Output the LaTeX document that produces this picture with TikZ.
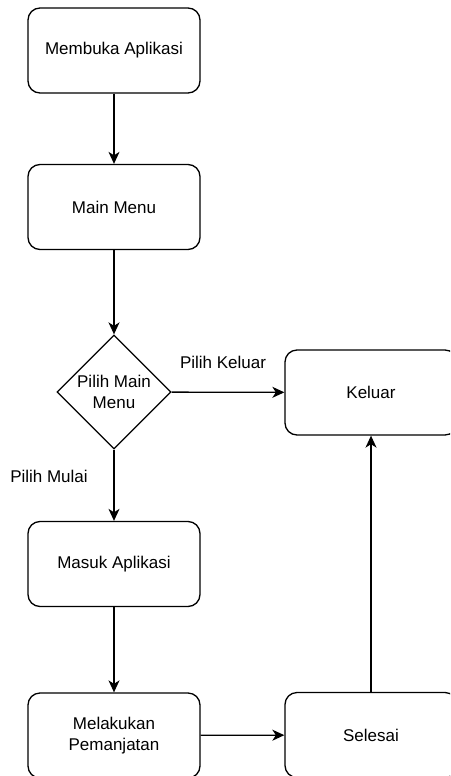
\documentclass[tikz,border=0pt]{standalone}
\usepackage{fontspec}
\setmainfont{Liberation Sans}
\usetikzlibrary{shapes.geometric,arrows.meta}

\begin{document}
\begin{tikzpicture}[x=1pt,y=-1pt,
  font=\fontsize{17}{21}\selectfont,
  stepbox/.style={draw, rounded corners=12pt, line width=1.3pt, minimum width=172pt, minimum height=85pt, align=center, inner sep=0pt},
  choice/.style={draw, diamond, aspect=1, minimum size=114pt, line width=1.3pt, align=center, inner sep=0pt},
  flow/.style={line width=1.3pt, -{Stealth[length=12pt,width=11pt,inset=3.5pt]}}]
\useasboundingbox (0,0) rectangle (450,776);
\clip (0,0) rectangle (450,776);
\node[stepbox] (buka) at (114,50.5) {Membuka Aplikasi};
\node[stepbox] (menu) at (114,207) {Main Menu};
\node[choice] (pilih) at (114,392) {\makebox[50pt]{Pilih Main}\\\makebox[50pt]{Menu}};
\node[stepbox] (keluar) at (371,392.5) {Keluar};
\node[stepbox] (masuk) at (114,564) {Masuk Aplikasi};
\node[stepbox] (panjat) at (114,735.5) {Melakukan\\Pemanjatan};
\node[stepbox] (selesai) at (371,735) {Selesai};
\node (lblkeluar) at (223,362) {Pilih Keluar};
\node (lblmulai) at (49,476) {Pilih Mulai};
\draw[flow] (buka) -- (menu);
\draw[flow] (menu) -- (pilih);
\draw[flow] (pilih) -- (keluar);
\draw[flow] (pilih) -- (masuk);
\draw[flow] (masuk) -- (panjat);
\draw[flow] (panjat) -- (selesai);
\draw[flow] (selesai) -- (keluar);
\end{tikzpicture}
\end{document}
